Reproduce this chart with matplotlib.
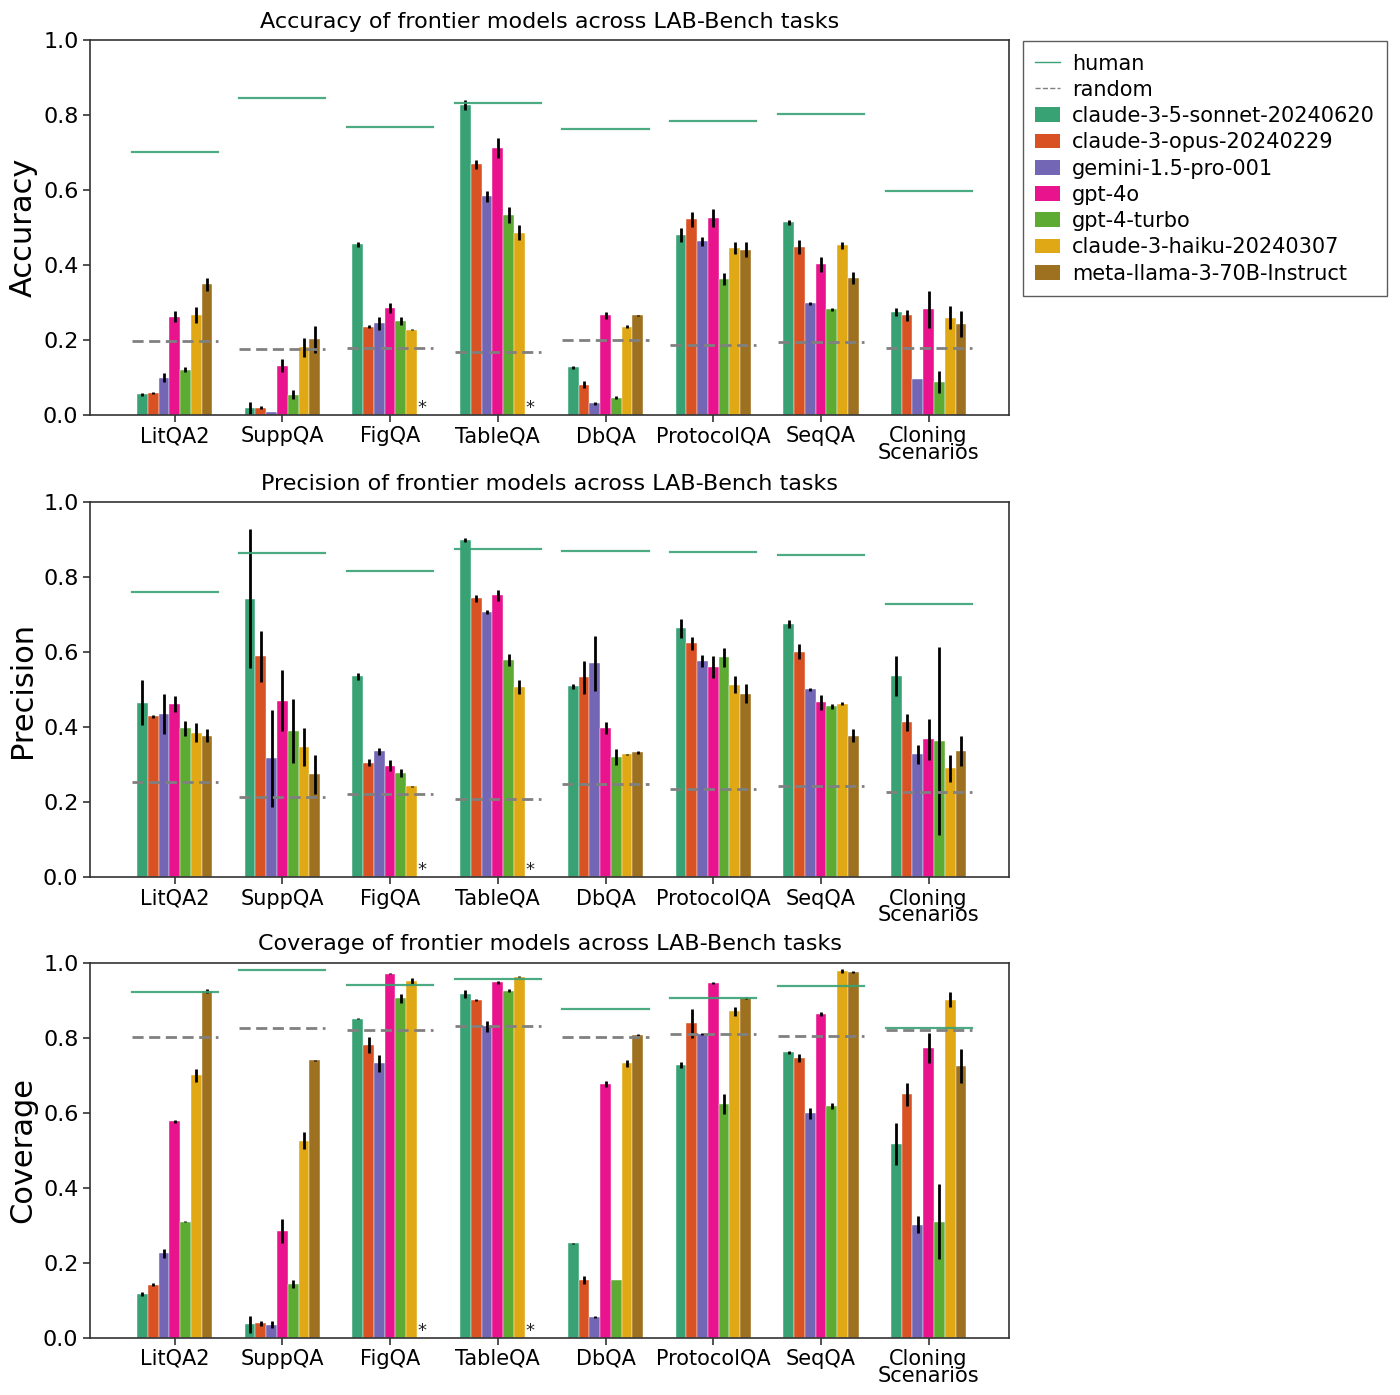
import numpy as np
import matplotlib
matplotlib.use("Agg")
from matplotlib import pyplot as plt
from matplotlib.lines import Line2D
from matplotlib.patches import Patch

tasks = ["LitQA2", "SuppQA", "FigQA", "TableQA", "DbQA", "ProtocolQA", "SeqQA", "Cloning\nScenarios"]
models = ["claude-3-5-sonnet-20240620", "claude-3-opus-20240229", "gemini-1.5-pro-001",
          "gpt-4o", "gpt-4-turbo", "claude-3-haiku-20240307", "meta-llama-3-70B-Instruct"]
colors = ["#38a275", "#d95224", "#7366b4", "#e8138d", "#5dab33", "#e0a814", "#9e7120"]
nan = np.nan

# accuracy[model][task]
accuracy = [
    [0.055, 0.020, 0.456, 0.828, 0.127, 0.480, 0.514, 0.275],
    [0.058, 0.020, 0.236, 0.670, 0.081, 0.522, 0.449, 0.266],
    [0.099, 0.007, 0.245, 0.584, 0.031, 0.464, 0.298, 0.097],
    [0.263, 0.132, 0.286, 0.712, 0.266, 0.526, 0.402, 0.282],
    [0.121, 0.054, 0.251, 0.534, 0.046, 0.363, 0.282, 0.089],
    [0.267, 0.181, 0.228, 0.487, 0.236, 0.445, 0.453, 0.260],
    [0.349, 0.202, nan,   nan,   0.266, 0.441, 0.367, 0.244],
]
accuracy_err = [
    [0.005, 0.016, 0.007, 0.013, 0.003, 0.018, 0.007, 0.010],
    [0.003, 0.005, 0.003, 0.012, 0.010, 0.020, 0.019, 0.014],
    [0.012, 0.000, 0.017, 0.014, 0.003, 0.012, 0.004, 0.000],
    [0.016, 0.018, 0.014, 0.027, 0.010, 0.025, 0.019, 0.050],
    [0.006, 0.012, 0.011, 0.021, 0.004, 0.015, 0.004, 0.029],
    [0.021, 0.025, 0.002, 0.021, 0.003, 0.016, 0.010, 0.030],
    [0.017, 0.036, nan,   nan,   0.002, 0.020, 0.016, 0.035],
]
accuracy_human = [0.702, 0.847, 0.768, 0.834, 0.763, 0.786, 0.803, 0.599]
accuracy_random = [0.198, 0.175, 0.178, 0.169, 0.200, 0.188, 0.194, 0.180]

precision = [
    [0.466, 0.743, 0.536, 0.899, 0.509, 0.664, 0.675, 0.536],
    [0.429, 0.590, 0.306, 0.744, 0.533, 0.624, 0.602, 0.413],
    [0.436, 0.317, 0.336, 0.707, 0.571, 0.578, 0.501, 0.328],
    [0.462, 0.471, 0.298, 0.752, 0.397, 0.560, 0.467, 0.368],
    [0.397, 0.390, 0.279, 0.579, 0.321, 0.587, 0.456, 0.363],
    [0.386, 0.347, 0.243, 0.507, 0.328, 0.514, 0.463, 0.291],
    [0.378, 0.275, nan,   nan,   0.333, 0.490, 0.378, 0.336],
]
precision_err = [
    [0.061, 0.185, 0.010, 0.005, 0.007, 0.026, 0.010, 0.053],
    [0.003, 0.068, 0.010, 0.010, 0.044, 0.018, 0.020, 0.023],
    [0.053, 0.130, 0.010, 0.005, 0.073, 0.016, 0.004, 0.025],
    [0.022, 0.081, 0.015, 0.015, 0.016, 0.029, 0.020, 0.054],
    [0.020, 0.086, 0.010, 0.016, 0.020, 0.025, 0.007, 0.250],
    [0.026, 0.050, 0.002, 0.018, 0.001, 0.023, 0.004, 0.036],
    [0.017, 0.052, nan,   nan,   0.003, 0.025, 0.017, 0.040],
]
precision_human = [0.762, 0.865, 0.817, 0.875, 0.870, 0.867, 0.858, 0.728]
precision_random = [0.254, 0.215, 0.223, 0.208, 0.250, 0.235, 0.245, 0.227]

coverage = [
    [0.117, 0.036, 0.851, 0.917, 0.252, 0.727, 0.761, 0.518],
    [0.141, 0.039, 0.781, 0.901, 0.154, 0.839, 0.746, 0.649],
    [0.225, 0.035, 0.732, 0.831, 0.055, 0.811, 0.599, 0.302],
    [0.577, 0.286, 0.971, 0.948, 0.677, 0.947, 0.863, 0.774],
    [0.310, 0.144, 0.906, 0.925, 0.154, 0.623, 0.619, 0.310],
    [0.700, 0.526, 0.952, 0.963, 0.732, 0.871, 0.978, 0.901],
    [0.924, 0.740, nan,   nan,   0.808, 0.906, 0.975, 0.724],
]
coverage_err = [
    [0.005, 0.022, 0.002, 0.010, 0.002, 0.008, 0.004, 0.056],
    [0.004, 0.007, 0.022, 0.003, 0.010, 0.039, 0.010, 0.030],
    [0.013, 0.010, 0.022, 0.015, 0.002, 0.003, 0.015, 0.023],
    [0.003, 0.032, 0.002, 0.004, 0.008, 0.003, 0.005, 0.040],
    [0.002, 0.010, 0.012, 0.004, 0.001, 0.027, 0.008, 0.100],
    [0.017, 0.023, 0.008, 0.002, 0.010, 0.012, 0.005, 0.020],
    [0.005, 0.002, nan,   nan,   0.002, 0.003, 0.002, 0.045],
]
coverage_human = [0.923, 0.981, 0.941, 0.956, 0.877, 0.907, 0.937, 0.825]
coverage_random = [0.803, 0.825, 0.822, 0.831, 0.801, 0.811, 0.805, 0.821]

panels = [
    ("Accuracy", accuracy, accuracy_err, accuracy_human, accuracy_random),
    ("Precision", precision, precision_err, precision_human, precision_random),
    ("Coverage", coverage, coverage_err, coverage_human, coverage_random),
]

plt.rcParams['font.family'] = ['DejaVu Sans']
fig = plt.figure(figsize=(14, 13.95), dpi=100)
axes_pos = [(0.064, 0.7025, 0.657, 0.2685), (0.064, 0.371, 0.657, 0.269), (0.064, 0.041, 0.657, 0.2688)]

x = np.arange(len(tasks))
w = 0.1
human_color = "#38a275"
for (name, vals, errs, human, rand), pos in zip(panels, axes_pos):
    ax = fig.add_axes(pos)
    for k, m in enumerate(models):
        off = (k - 3) * w
        v = np.array(vals[k], dtype=float)
        e = np.array(errs[k], dtype=float)
        ax.bar(x + off, np.nan_to_num(v), width=w, color=colors[k], edgecolor="white",
               linewidth=0.3, yerr=np.nan_to_num(e), error_kw=dict(ecolor="black", elinewidth=2, capsize=0),
               label=m)
        # llama has no FigQA / TableQA result
        for i in np.where(np.isnan(v))[0]:
            ax.text(x[i] + off, -0.005, "*", ha="center", va="bottom", fontsize=13, color="#222222")
    for i in range(len(tasks)):
        ax.plot([x[i] - 0.4, x[i] + 0.4], [human[i]] * 2, color=human_color, lw=1.6, alpha=0.9)
        ax.plot([x[i] - 0.4, x[i] + 0.4], [rand[i]] * 2, color="gray", lw=2, ls=(0, (4, 2)))
    ax.set_xlim(-0.79, 7.75)
    ax.set_ylim(0, 1.0)
    ax.set_yticks(np.arange(0, 1.01, 0.2))
    ax.set_yticklabels([f"{t:.1f}" for t in np.arange(0, 1.01, 0.2)], fontsize=16)
    ax.set_xticks(x)
    ax.set_xticklabels(tasks, fontsize=15, linespacing=0.8)
    ax.set_ylabel(name, fontsize=22)
    ax.set_title(f"{name} of frontier models across LAB-Bench tasks", fontsize=16, pad=9)
    for s in ax.spines.values():
        s.set_color("#333333")
        s.set_linewidth(1.2)
    ax.tick_params(length=5, width=1.2, color="#333333", pad=3)

handles = [Line2D([0], [0], color=human_color, lw=1),
           Line2D([0], [0], color="gray", lw=1, ls="--")]
handles += [Patch(facecolor=c) for c in colors]
labels = ["human", "random"] + models
fig.legend(handles, labels, loc="upper left", bbox_to_anchor=(0.7307, 0.9706), fontsize=15,
           frameon=True, fancybox=False, edgecolor="#333333", handlelength=1.2, handletextpad=0.55,
           borderpad=0.6, labelspacing=0.3, borderaxespad=0)

fig.savefig("out.png", dpi=100)
